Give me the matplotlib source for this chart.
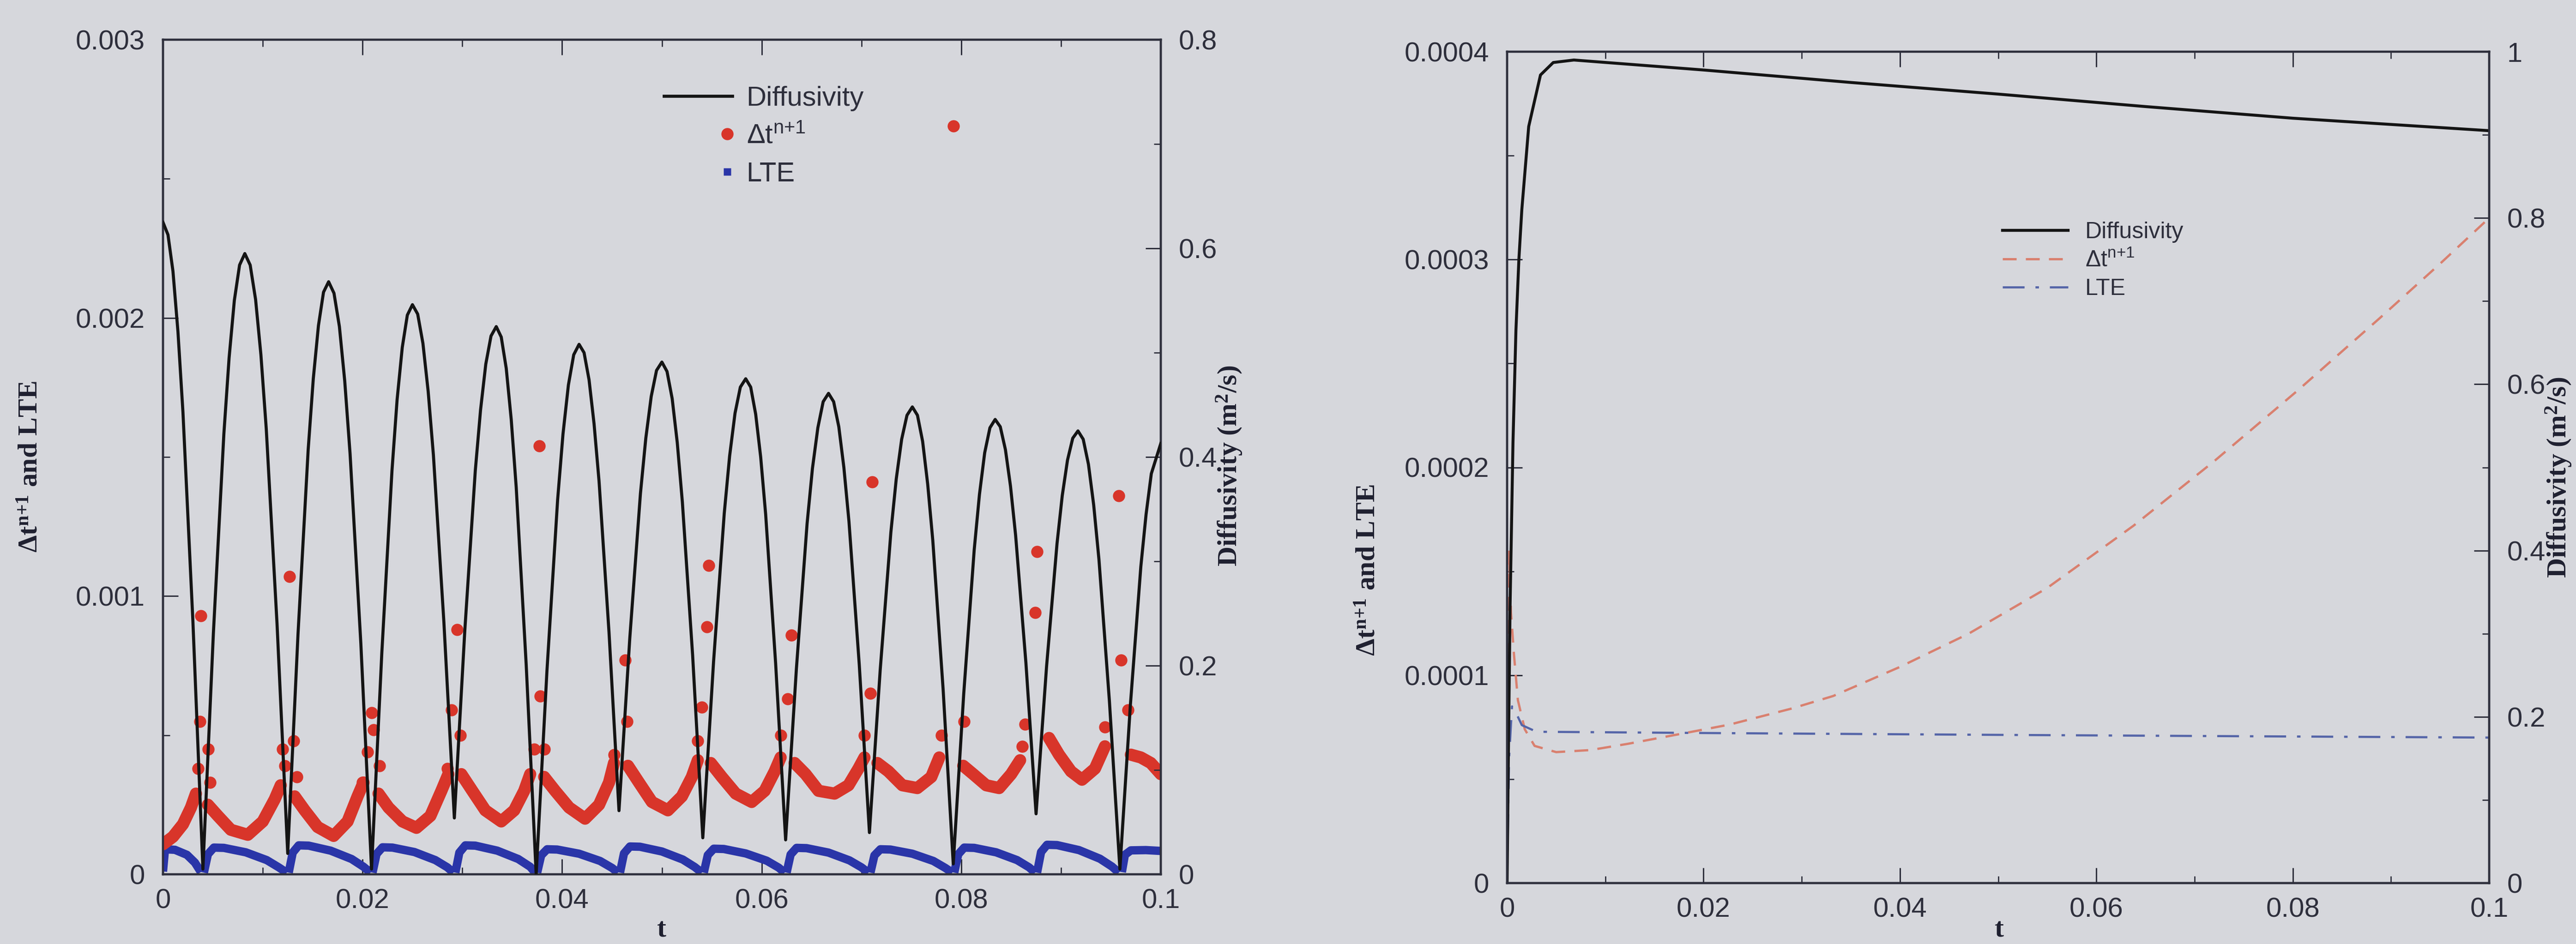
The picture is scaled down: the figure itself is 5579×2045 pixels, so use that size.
import numpy as np
import matplotlib
matplotlib.use("Agg")
import matplotlib.pyplot as plt
from matplotlib.lines import Line2D
from matplotlib.legend_handler import HandlerLine2D
from matplotlib.ticker import MultipleLocator

plt.rcParams['font.family'] = ['Liberation Sans', 'DejaVu Sans']
plt.rcParams['mathtext.default'] = 'regular'

# ---------------- data: oscillating case (left panel) ----------------
diff_t = [0.0, 0.0005, 0.0010, 0.0015, 0.0020, 0.0030, 0.0040,
          0.00505, 0.0061, 0.006625, 0.00715, 0.007675, 0.0082,
          0.008738, 0.00928, 0.009813, 0.01035, 0.01143, 0.0125,
          0.01353, 0.01455, 0.015063, 0.01558, 0.016088, 0.0166,
          0.017138, 0.01768, 0.018213, 0.01875, 0.01983, 0.0209,
          0.02193, 0.02295, 0.023463, 0.02398, 0.024488, 0.0250,
          0.025525, 0.02605, 0.026575, 0.0271, 0.02815, 0.0292,
          0.03025, 0.0313, 0.031825, 0.03235, 0.032875, 0.0334,
          0.0339, 0.0344, 0.0349, 0.0354, 0.0364, 0.0374,
          0.03848, 0.03955, 0.040088, 0.04063, 0.041163, 0.0417,
          0.0422, 0.0427, 0.0432, 0.0437, 0.0447, 0.0457,
          0.04678, 0.04785, 0.048388, 0.04893, 0.049463, 0.0500,
          0.050513, 0.05103, 0.051538, 0.05205, 0.05308, 0.0541,
          0.05518, 0.05625, 0.056788, 0.05733, 0.057863, 0.0584,
          0.0589, 0.0594, 0.0599, 0.0604, 0.0614, 0.0624,
          0.06348, 0.06455, 0.065088, 0.06563, 0.066163, 0.0667,
          0.067213, 0.06773, 0.068238, 0.06875, 0.06978, 0.0708,
          0.07188, 0.07295, 0.073488, 0.07403, 0.074563, 0.0751,
          0.075613, 0.07613, 0.076638, 0.07715, 0.07818, 0.0792,
          0.08025, 0.0813, 0.081825, 0.08235, 0.082875, 0.0834,
          0.083913, 0.08443, 0.084938, 0.08545, 0.08648, 0.0875,
          0.08855, 0.0896, 0.090125, 0.09065, 0.091175, 0.0917,
          0.092225, 0.09275, 0.093275, 0.0938, 0.09485, 0.0959,
          0.09695, 0.0980, 0.098525, 0.09905, 0.1000]
diff_v = [0.625, 0.613, 0.578, 0.520, 0.443, 0.242, 0.005,
          0.231, 0.422, 0.495, 0.550, 0.584, 0.595,
          0.584, 0.551, 0.498, 0.427, 0.240, 0.020,
          0.230, 0.407, 0.475, 0.526, 0.558, 0.568,
          0.557, 0.525, 0.473, 0.403, 0.221, 0.005,
          0.212, 0.387, 0.455, 0.505, 0.536, 0.546,
          0.537, 0.509, 0.463, 0.402, 0.242, 0.054,
          0.234, 0.387, 0.445, 0.489, 0.516, 0.525,
          0.515, 0.485, 0.436, 0.371, 0.201, 0.000,
          0.195, 0.359, 0.422, 0.469, 0.498, 0.508,
          0.500, 0.474, 0.432, 0.377, 0.232, 0.061,
          0.226, 0.365, 0.418, 0.458, 0.483, 0.491,
          0.482, 0.456, 0.414, 0.357, 0.210, 0.035,
          0.204, 0.346, 0.401, 0.442, 0.467, 0.475,
          0.467, 0.441, 0.400, 0.345, 0.202, 0.033,
          0.197, 0.336, 0.389, 0.428, 0.453, 0.461,
          0.453, 0.429, 0.390, 0.338, 0.201, 0.040,
          0.196, 0.328, 0.379, 0.417, 0.440, 0.448,
          0.440, 0.415, 0.374, 0.320, 0.178, 0.010,
          0.173, 0.311, 0.364, 0.404, 0.428, 0.436,
          0.429, 0.407, 0.372, 0.325, 0.203, 0.058,
          0.199, 0.317, 0.363, 0.397, 0.418, 0.425,
          0.417, 0.393, 0.354, 0.302, 0.166, 0.005,
          0.162, 0.295, 0.345, 0.384, 0.413]

# time-step history, one run per diffusivity cycle (nan = break between cycles)
nan = float('nan')
dt_t = [0.0, 0.0010, 0.0020, 0.0028, 0.0033, nan,
        0.0045, 0.0055, 0.0068, 0.0085, 0.0100, 0.0112, 0.0118, nan,
        0.0132, 0.0142, 0.0155, 0.0171, 0.0185, 0.0195, 0.0201, nan,
        0.0216, 0.0226, 0.0240, 0.0254, 0.0268, 0.0279, 0.0286, nan,
        0.0299, 0.0310, 0.0323, 0.0339, 0.0352, 0.0362, 0.0368, nan,
        0.0382, 0.0393, 0.0407, 0.0423, 0.0437, 0.0447, 0.0452, nan,
        0.0466, 0.0477, 0.0490, 0.0506, 0.0520, 0.0530, 0.0536, nan,
        0.0549, 0.0560, 0.0574, 0.0590, 0.0603, 0.0613, 0.0619, nan,
        0.0633, 0.0644, 0.0657, 0.0673, 0.0687, 0.0697, 0.0703, nan,
        0.0716, 0.0727, 0.0741, 0.0756, 0.0770, 0.0778, nan,
        0.0802, 0.0812, 0.0825, 0.0838, 0.0850, 0.0859, nan,
        0.0888, 0.0898, 0.0910, 0.0921, 0.0934, 0.0944, nan,
        0.0970, 0.0980, 0.0990, 0.1000]
dt_v = [0.000108, 0.000135, 0.00018, 0.00024, 0.00029, nan,
        0.00025, 0.00021, 0.00016, 0.000142, 0.00019, 0.00027, 0.00032, nan,
        0.00028, 0.00023, 0.00017, 0.000138, 0.00019, 0.00028, 0.00033, nan,
        0.00029, 0.00024, 0.00019, 0.000167, 0.00021, 0.00030, 0.00036, nan,
        0.00036, 0.00030, 0.00023, 0.00019, 0.00023, 0.00030, 0.00036, nan,
        0.00035, 0.00030, 0.00024, 0.00020, 0.00025, 0.00033, 0.00040, nan,
        0.00039, 0.00033, 0.00026, 0.00023, 0.00028, 0.00035, 0.00041, nan,
        0.00040, 0.00035, 0.00029, 0.00026, 0.00030, 0.00037, 0.00042, nan,
        0.00040, 0.00036, 0.00030, 0.00029, 0.00032, 0.00038, 0.00042, nan,
        0.00040, 0.00037, 0.00032, 0.00031, 0.00035, 0.00042, nan,
        0.00039, 0.00036, 0.00032, 0.00031, 0.00036, 0.00041, nan,
        0.00049, 0.00043, 0.00037, 0.00034, 0.00038, 0.00046, nan,
        0.00043, 0.00042, 0.00040, 0.00036]

# rejected / restarted steps around each diffusivity minimum
dt_spike_t = [0.0035, 0.0037, 0.0038, 0.00454, 0.0047,
              0.0120, 0.0122, 0.0127, 0.0131, 0.0134,
              0.0200, 0.0205, 0.0209, 0.0211, 0.0217,
              0.0285, 0.0289, 0.0295, 0.0298,
              0.0372, 0.0377, 0.0378, 0.0382,
              0.0452, 0.0463, 0.0465,
              0.0536, 0.0540, 0.0545, 0.0547,
              0.0619, 0.0626, 0.0630,
              0.0703, 0.0709, 0.0711,
              0.0780, 0.0792, 0.0803,
              0.0861, 0.0864, 0.0874, 0.0876,
              0.0944, 0.0958, 0.0960, 0.0967]
dt_spike_v = [0.00038, 0.00055, 0.00093, 0.00045, 0.00033,
              0.00045, 0.00039, 0.00107, 0.00048, 0.00035,
              0.00033, 0.00044, 0.00058, 0.00052, 0.00039,
              0.00038, 0.00059, 0.00088, 0.00050,
              0.00045, 0.00154, 0.00064, 0.00045,
              0.00043, 0.00077, 0.00055,
              0.00048, 0.00060, 0.00089, 0.00111,
              0.00050, 0.00063, 0.00086,
              0.00050, 0.00065, 0.00141,
              0.00050, 0.00269, 0.00055,
              0.00046, 0.00054, 0.00094, 0.00116,
              0.00053, 0.00136, 0.00077, 0.00059]

lte_t = [0.0, 0.0002, 0.0012, 0.0024, 0.0032, 0.0038, nan,
         0.0041, 0.0045, 0.0051, 0.0061, 0.0083, 0.0104, 0.0116, 0.0124, nan,
         0.0126, 0.0130, 0.0136, 0.0146, 0.0168, 0.0189, 0.0201, 0.0208, nan,
         0.0210, 0.0214, 0.0220, 0.0230, 0.0252, 0.0273, 0.0285, 0.0291, nan,
         0.0293, 0.0297, 0.0303, 0.0313, 0.0335, 0.0356, 0.0368, 0.0373, nan,
         0.0375, 0.0379, 0.0385, 0.0395, 0.0417, 0.0438, 0.0450, 0.0456, nan,
         0.0458, 0.0462, 0.0468, 0.0478, 0.0500, 0.0521, 0.0533, 0.0540, nan,
         0.0542, 0.0546, 0.0552, 0.0562, 0.0584, 0.0605, 0.0617, 0.0623, nan,
         0.0625, 0.0629, 0.0635, 0.0645, 0.0667, 0.0688, 0.0700, 0.0707, nan,
         0.0709, 0.0713, 0.0719, 0.0729, 0.0751, 0.0772, 0.0784, 0.0791, nan,
         0.0793, 0.0797, 0.0803, 0.0813, 0.0835, 0.0856, 0.0868, 0.0874, nan,
         0.0876, 0.0880, 0.0886, 0.0896, 0.0918, 0.0939, 0.0951, 0.0958, nan,
         0.0961, 0.0964, 0.0970, 0.0985, 0.1000]
lte_v = [0.00001, 0.00009, 0.000088, 0.00007, 0.000042, 0.000008, nan,
         0.000006, 0.000072, 0.000096, 0.000095, 0.000079, 0.000051, 0.000025, 0.000006, nan,
         0.000006, 0.000078, 0.000104, 0.000103, 0.000085, 0.000055, 0.000027, 0.000006, nan,
         0.000006, 0.000073, 0.000097, 0.000096, 0.000080, 0.000051, 0.000025, 0.000006, nan,
         0.000006, 0.000078, 0.000104, 0.000103, 0.000085, 0.000055, 0.000027, 0.000006, nan,
         0.000006, 0.000068, 0.000090, 0.000089, 0.000074, 0.000048, 0.000023, 0.000006, nan,
         0.000006, 0.000075, 0.000100, 0.000099, 0.000082, 0.000053, 0.000026, 0.000006, nan,
         0.000006, 0.000069, 0.000092, 0.000091, 0.000075, 0.000049, 0.000024, 0.000006, nan,
         0.000006, 0.000071, 0.000095, 0.000094, 0.000078, 0.000050, 0.000025, 0.000006, nan,
         0.000006, 0.000068, 0.000090, 0.000089, 0.000074, 0.000048, 0.000023, 0.000006, nan,
         0.000006, 0.000072, 0.000096, 0.000095, 0.000079, 0.000051, 0.000025, 0.000006, nan,
         0.000006, 0.000080, 0.000106, 0.000105, 0.000087, 0.000056, 0.000028, 0.000006, nan,
         0.000008, 0.000070, 0.000086, 0.000087, 0.000084]

# ---------------- data: smooth case (right panel) ----------------
r_diff_t = [0.0, 0.0001, 0.0003, 0.0006, 0.0009, 0.0012, 0.0015, 0.0022,
            0.0034, 0.0047, 0.0068, 0.02, 0.035, 0.05, 0.065, 0.08, 0.1]
r_diff_v = [0.0, 0.12, 0.33, 0.53, 0.665, 0.75, 0.81, 0.91,
            0.972, 0.987, 0.99, 0.978, 0.963, 0.949, 0.934, 0.92, 0.905]

r_dt_t = [0.0, 0.0002, 0.0004, 0.0007, 0.0011, 0.0018, 0.0028, 0.005,
          0.0085, 0.0123, 0.0186, 0.0227, 0.029, 0.0332, 0.04, 0.047,
          0.055, 0.0638, 0.072, 0.0805, 0.0889, 0.095, 0.1]
r_dt_v = [0.00002, 0.00016, 0.00013, 0.00011, 0.000088, 0.000074, 0.000066, 0.000063,
          0.000064, 0.000067, 0.0000726, 0.0000763, 0.000084, 0.00009, 0.000104, 0.00012,
          0.000142, 0.000172, 0.000203, 0.000237, 0.000272, 0.000298, 0.00032]

r_lte_t = [0.0, 0.0002, 0.0005, 0.0008, 0.0015, 0.003, 0.02, 0.05, 0.1]
r_lte_v = [0.0, 0.00006, 0.000085, 0.000083, 0.000076, 0.0000728, 0.0000722, 0.0000713, 0.00007]

# ---------------- axis ticks ----------------
x_ticks = [0, 0.02, 0.04, 0.06, 0.08, 0.1]
x_tick_labels = ['0', '0.02', '0.04', '0.06', '0.08', '0.1']
left_y_ticks = [0, 0.001, 0.002, 0.003]
left_y_labels = ['0', '0.001', '0.002', '0.003']
left_y2_ticks = [0, 0.2, 0.4, 0.6, 0.8]
left_y2_labels = ['0', '0.2', '0.4', '0.6', '0.8']
right_y_ticks = [0, 0.0001, 0.0002, 0.0003, 0.0004]
right_y_labels = ['0', '0.0001', '0.0002', '0.0003', '0.0004']
right_y2_ticks = [0, 0.2, 0.4, 0.6, 0.8, 1.0]
right_y2_labels = ['0', '0.2', '0.4', '0.6', '0.8', '1']

series_names = ['Diffusivity', 'Δt$^{n{+}1}$', 'LTE']
left_axis_title = 'Δt$^{n{+}1}$ and LTE'
right_axis_title = 'Diffusivity (m$^{2}$/s)'

# ---------------- styling ----------------
BG = '#d6d7dc'
INK = '#2e2f3c'
RED = '#d8352a'
BLUE = '#2a35a8'
SALMON = '#d9806f'
SLATE = '#5565a8'
W, H = 5579, 2045
TICK_FS = 43
LABEL_FS = 43
SERIF = ['Liberation Serif', 'DejaVu Serif']

fig = plt.figure(figsize=(W / 100, H / 100), dpi=100, facecolor=BG)


def px_box(x0, x1, ytop, ybot):
    return [x0 / W, 1 - ybot / H, (x1 - x0) / W, (ybot - ytop) / H]


axL = fig.add_axes(px_box(353, 2514, 86, 1894), facecolor=BG)
axL2 = axL.twinx()
axR = fig.add_axes(px_box(3264, 5391, 112, 1913), facecolor=BG)
axR2 = axR.twinx()


def style(ax, ax2, yt, yl, ymax, yminor, y2t, y2l, y2max):
    ax.set_xlim(0, 0.1)
    ax.set_ylim(0, ymax)
    ax2.set_ylim(0, y2max)
    ax.set_xticks(x_ticks)
    ax.set_xticklabels(x_tick_labels)
    ax.xaxis.set_minor_locator(MultipleLocator(0.01))
    ax.set_yticks(yt)
    ax.set_yticklabels(yl)
    ax.yaxis.set_minor_locator(MultipleLocator(yminor))
    ax2.set_yticks(y2t)
    ax2.set_yticklabels(y2l)
    ax2.yaxis.set_minor_locator(MultipleLocator(0.1))
    ax.tick_params(axis='x', which='both', direction='in', top=True, bottom=True,
                   color=INK, labelcolor=INK, labelsize=TICK_FS, pad=22)
    ax.tick_params(axis='y', which='both', direction='in', left=True, right=False,
                   color=INK, labelcolor=INK, labelsize=TICK_FS, pad=28)
    ax2.tick_params(axis='y', which='both', direction='in', right=True, left=False,
                    color=INK, labelcolor=INK, labelsize=TICK_FS, pad=28)
    for a in (ax, ax2):
        a.tick_params(which='major', length=24, width=2.2)
        a.tick_params(which='minor', length=11, width=2.0)
        for s in a.spines.values():
            s.set_linewidth(3.2)
            s.set_color(INK)


style(axL, axL2, left_y_ticks, left_y_labels, 0.003, 0.0005,
      left_y2_ticks, left_y2_labels, 0.8)
style(axR, axR2, right_y_ticks, right_y_labels, 0.0004, 0.00005,
      right_y2_ticks, right_y2_labels, 1.0)

# ---- left panel marks ----
axL.plot(lte_t, lte_v, color=BLUE, lw=13, solid_capstyle='butt',
         solid_joinstyle='round', zorder=2)
axL.plot(dt_t, dt_v, color=RED, lw=19, solid_capstyle='round',
         solid_joinstyle='round', zorder=3)
axL.plot(dt_spike_t, dt_spike_v, ls='none', marker='o', ms=19,
         color=RED, mec='none', zorder=3)
axL2.plot(diff_t, diff_v, color='#141414', lw=4.8, zorder=4,
          solid_joinstyle='round')

# ---- right panel marks ----
axR.plot(r_dt_t, r_dt_v, color=SALMON, lw=3.6, dashes=(6, 4))
axR.plot(r_lte_t, r_lte_v, color=SLATE, lw=3.4, dashes=(10, 5, 1.6, 5))
axR2.plot(r_diff_t, r_diff_v, color='#141414', lw=4.6, solid_joinstyle='round')


# ---- legends ----
class EndMarkerHandler(HandlerLine2D):
    """Legend entry with the symbol at the right end of the handle."""

    def create_artists(self, legend, orig_handle, xdescent, ydescent,
                       width, height, fontsize, trans):
        y = (height - ydescent) / 2
        art = Line2D([-xdescent + 0.93 * width], [y], linestyle='none')
        self.update_prop(art, orig_handle, legend)
        art.set_transform(trans)
        return [art]


hL = [Line2D([], [], color='#141414', lw=4.8),
      Line2D([], [], ls='none', marker='o', ms=19, color=RED, mec='none'),
      Line2D([], [], ls='none', marker='s', ms=12, color=BLUE, mec='none')]
fig.legend(hL, series_names, loc='upper left',
           bbox_to_anchor=(1438 / W, 1 - 186 / H), frameon=False,
           fontsize=43, handlelength=2.47, handletextpad=0.52,
           borderpad=0, borderaxespad=0, labelspacing=0.45,
           labelcolor=INK,
           handler_map={hL[1]: EndMarkerHandler(), hL[2]: EndMarkerHandler()})

hR = [Line2D([], [], color='#141414', lw=4.6),
      Line2D([], [], color=SALMON, lw=3.6, dashes=(6, 4)),
      Line2D([], [], color=SLATE, lw=3.4, dashes=(10, 5, 1.6, 5))]
fig.legend(hR, series_names, loc='upper left',
           bbox_to_anchor=(4337 / W, 1 - 480 / H), frameon=False,
           fontsize=36, handlelength=2.84, handletextpad=0.74,
           borderpad=0, borderaxespad=0, labelspacing=0.3,
           labelcolor=INK)

# ---- axis titles ----
lab = dict(rotation=90, ha='center', va='center', fontsize=LABEL_FS,
           family=SERIF, fontweight='bold', color='#1f2030')
fig.text(67 / W, 1 - 1011 / H, left_axis_title, **lab)
fig.text(2663 / W, 1 - 1009 / H, right_axis_title, **lab)
fig.text(2964 / W, 1 - 1235 / H, left_axis_title, **lab)
fig.text(5542 / W, 1 - 1034 / H, right_axis_title, **lab)

tl = dict(ha='center', va='bottom', fontsize=LABEL_FS, family=SERIF,
          fontweight='bold', color='#1f2030')
fig.text(1433 / W, 1 - 2043 / H, 't', **tl)
fig.text(4330 / W, 1 - 2043 / H, 't', **tl)

fig.savefig('out.png', dpi=100, facecolor=BG)
